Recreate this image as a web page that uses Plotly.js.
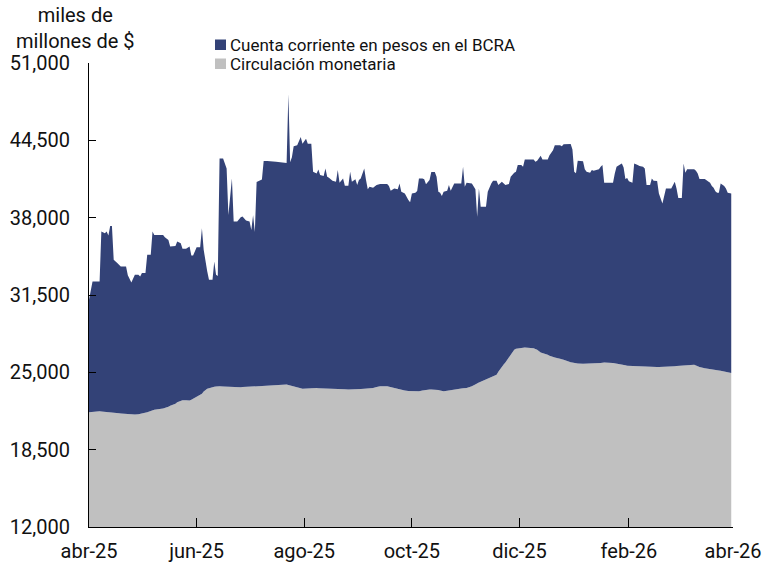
<!DOCTYPE html>
<html>
<head>
<meta charset="utf-8">
<script src="https://cdn.plot.ly/plotly-3.0.1.min.js"></script>
<style>html,body{margin:0;padding:0;background:#fff}#chart{width:767px;height:564px}</style>
</head>
<body>
<div id="chart"></div>
<script>
const dates = [
"2025-04-01","2025-04-03","2025-04-07","2025-04-08","2025-04-10","2025-04-11","2025-04-12","2025-04-13","2025-04-14","2025-04-15",
"2025-04-17","2025-04-18","2025-04-19","2025-04-22","2025-04-23","2025-04-25","2025-04-27","2025-04-29","2025-04-30","2025-05-01",
"2025-05-03","2025-05-04","2025-05-06","2025-05-07","2025-05-08","2025-05-13","2025-05-14","2025-05-16","2025-05-17","2025-05-20",
"2025-05-21","2025-05-23","2025-05-24","2025-05-26","2025-05-28","2025-05-29","2025-05-30","2025-06-01","2025-06-03","2025-06-04",
"2025-06-05","2025-06-07","2025-06-08","2025-06-10","2025-06-11","2025-06-12","2025-06-13","2025-06-14","2025-06-16","2025-06-18",
"2025-06-19","2025-06-21","2025-06-22","2025-06-24","2025-06-26","2025-06-27","2025-06-29","2025-07-01","2025-07-02","2025-07-03",
"2025-07-04","2025-07-05","2025-07-08","2025-07-09","2025-07-11","2025-07-16","2025-07-22","2025-07-23","2025-07-24","2025-07-25",
"2025-07-26","2025-07-28","2025-07-30","2025-07-31","2025-08-02","2025-08-03","2025-08-05","2025-08-06","2025-08-08","2025-08-09",
"2025-08-10","2025-08-12","2025-08-13","2025-08-14","2025-08-15","2025-08-17","2025-08-19","2025-08-20","2025-08-21","2025-08-23",
"2025-08-24","2025-08-26","2025-08-27","2025-08-28","2025-08-30","2025-08-31","2025-09-01","2025-09-02","2025-09-04","2025-09-05",
"2025-09-06","2025-09-07","2025-09-09","2025-09-11","2025-09-13","2025-09-17","2025-09-18","2025-09-19","2025-09-21","2025-09-23",
"2025-09-24","2025-09-25","2025-09-27","2025-09-29","2025-09-30","2025-10-01","2025-10-03","2025-10-04","2025-10-05","2025-10-07",
"2025-10-08","2025-10-09","2025-10-11","2025-10-12","2025-10-14","2025-10-15","2025-10-16","2025-10-17","2025-10-18","2025-10-19",
"2025-10-21","2025-10-22","2025-10-23","2025-10-25","2025-10-29","2025-10-30","2025-10-31","2025-11-01","2025-11-04","2025-11-06",
"2025-11-07","2025-11-08","2025-11-09","2025-11-12","2025-11-13","2025-11-15","2025-11-16","2025-11-18","2025-11-19","2025-11-21",
"2025-11-22","2025-11-23","2025-11-25","2025-11-26","2025-11-28","2025-11-29","2025-11-30","2025-12-02","2025-12-03","2025-12-04",
"2025-12-09","2025-12-10","2025-12-11","2025-12-13","2025-12-14","2025-12-17","2025-12-18","2025-12-20","2025-12-21","2025-12-24",
"2025-12-25","2025-12-26","2025-12-30","2025-12-31","2026-01-01","2026-01-02","2026-01-03","2026-01-06","2026-01-07","2026-01-08",
"2026-01-10","2026-01-11","2026-01-12","2026-01-13","2026-01-15","2026-01-16","2026-01-17","2026-01-18","2026-01-23","2026-01-24",
"2026-01-25","2026-01-27","2026-01-28","2026-01-29","2026-01-30","2026-01-31","2026-02-01","2026-02-03","2026-02-04","2026-02-06",
"2026-02-07","2026-02-09","2026-02-10","2026-02-11","2026-02-13","2026-02-14","2026-02-15","2026-02-17","2026-02-18","2026-02-20",
"2026-02-21","2026-02-22","2026-02-25","2026-02-27","2026-02-28","2026-03-01","2026-03-03","2026-03-04","2026-03-05","2026-03-06",
"2026-03-10","2026-03-11","2026-03-12","2026-03-13","2026-03-16","2026-03-17","2026-03-19","2026-03-20","2026-03-21","2026-03-22",
"2026-03-23","2026-03-24","2026-03-25","2026-03-27","2026-03-28","2026-03-29","2026-03-31"
];

const circulacion = [
21650,21690,21720,21710,21690,21670,21650,21640,21630,21610,
21580,21560,21540,21490,21470,21460,21460,21480,21510,21540,
21610,21650,21760,21820,21860,21960,22000,22100,22200,22350,
22490,22640,22650,22650,22630,22700,22770,22940,23120,23210,
23380,23610,23660,23780,23790,23800,23820,23830,23800,23780,
23770,23750,23740,23740,23750,23760,23780,23800,23810,23830,
23840,23860,23890,23900,23920,23960,23970,23940,23910,23880,
23840,23740,23670,23630,23660,23670,23690,23690,23690,23670,
23660,23630,23630,23620,23620,23610,23600,23590,23590,23570,
23570,23560,23560,23550,23560,23570,23580,23600,23620,23630,
23650,23660,23690,23760,23830,23830,23790,23760,23690,23600,
23550,23520,23470,23430,23430,23420,23420,23410,23410,23480,
23510,23550,23550,23550,23550,23550,23510,23480,23440,23410,
23460,23490,23520,23580,23650,23660,23680,23690,23830,24010,
24110,24150,24200,24390,24450,24580,24650,24800,25040,25500,
25660,25820,26260,26540,26900,26980,27000,27040,27060,27080,
27020,26970,26900,26670,26630,26470,26400,26290,26250,26150,
26120,26050,25850,25820,25790,25770,25750,25730,25730,25730,
25760,25770,25790,25790,25790,25790,25800,25820,25790,25770,
25750,25700,25670,25630,25590,25560,25550,25530,25520,25510,
25500,25490,25480,25470,25460,25450,25450,25450,25450,25450,
25450,25450,25490,25510,25530,25540,25580,25600,25620,25640,
25640,25580,25510,25450,25340,25310,25270,25240,25220,25200,
25180,25160,25140,25070,25030,25000,24950
];

const cuentaCorriente = [
9450,10950,10920,15120,15010,15160,14850,15660,15670,12850,
12620,12440,12360,12410,11680,11100,11740,11720,11550,11800,
11730,13230,13120,15010,14690,14590,14360,14030,13370,13270,
13510,13210,12740,12730,12940,12120,12050,12580,12400,13900,
11920,9890,9120,9000,10520,9400,9280,19140,19170,18350,
14460,17550,13930,13930,14280,14330,13980,13870,13160,14370,
12960,17140,17310,18870,18850,18740,18630,24440,18740,19190,
20160,20340,21110,20590,20980,20550,20530,18170,18030,18380,
17920,17870,18510,17820,17740,17500,17420,18410,17350,17730,
17110,17120,18300,17470,17660,17170,17580,17700,18520,17530,
16730,16940,16830,16980,16990,16990,16870,16510,16770,16780,
17330,16660,16570,16050,15870,16620,16680,16830,17890,17820,
17710,17250,17610,18280,18280,17890,16670,16620,16390,16770,
16810,17250,16750,17300,17230,18620,16920,17250,17050,16370,
13970,16310,14720,14530,15730,16300,16450,16300,15700,15520,
15220,14920,14560,14900,14870,14880,15420,15380,15220,15810,
15870,15730,15880,16530,16260,16420,16850,17380,17840,17940,
17880,18120,18350,17900,16070,15960,17030,17020,16330,16130,
16020,16230,16160,16210,16270,16490,16620,15120,15150,15950,
16530,16770,16890,16590,15670,15780,15510,15410,17040,16910,
16840,16790,16660,15270,15280,15850,15650,15630,14590,13750,
14310,15010,14970,15510,14930,14110,14070,16960,16160,16420,
16420,16370,16210,15810,15920,15850,15670,15420,15300,15030,
14920,14940,15740,15590,15430,15100,15090
];

const tickDates = ["2025-04-01","2025-06-01","2025-08-01","2025-10-01","2025-12-01","2026-02-01","2026-04-01"];
const tickLabels = ["abr-25","jun-25","ago-25","oct-25","dic-25","feb-26","abr-26"];
const yTicks = [12000,18500,25000,31500,38000,44500,51000];
const seriesNames = ["Cuenta corriente en pesos en el BCRA","Circulación monetaria"];
const colors = {cuenta: "#334277", circ: "#c0c0c0"};

const traces = [
  {x: dates, y: circulacion, type: "scatter", mode: "lines", stackgroup: "one",
   name: seriesNames[1], line: {width: 0, color: colors.circ}, fillcolor: colors.circ,
   showlegend: false, hovertemplate: "%{x}<br>%{y:,}<extra>" + seriesNames[1] + "</extra>"},
  {x: dates, y: cuentaCorriente, type: "scatter", mode: "lines", stackgroup: "one",
   name: seriesNames[0], line: {width: 0, color: colors.cuenta}, fillcolor: colors.cuenta,
   showlegend: false, hovertemplate: "%{x}<br>%{y:,}<extra>" + seriesNames[0] + "</extra>"}
];

// pixel helpers for paper coordinates of the legend/title decorations
const L = 89, T = 63, W = 644, H = 464;
const px = v => (v - L) / W;
const py = v => 1 + (T - v) / H;

const layout = {
  width: 767, height: 564,
  margin: {l: L, r: 767 - L - W, t: T, b: 564 - T - H, pad: 0},
  paper_bgcolor: "#ffffff", plot_bgcolor: "#ffffff",
  font: {family: "Roboto, 'Noto Sans', sans-serif", size: 20, color: "#111111"},
  showlegend: false,
  xaxis: {
    type: "date", range: ["2025-04-01", "2026-04-01"],
    tickmode: "array", tickvals: tickDates, ticktext: tickLabels,
    ticks: "inside", ticklen: 9, tickcolor: "#000", tickwidth: 1,
    showline: true, linecolor: "#000", linewidth: 1,
    showgrid: false, zeroline: false, ticklabelstandoff: 6,
    tickfont: {size: 20, color: "#111"}
  },
  yaxis: {
    range: [12000, 51000], tickmode: "array", tickvals: yTicks,
    tickformat: ",d",
    ticks: "inside", ticklen: 7, tickcolor: "#000", tickwidth: 1,
    showline: true, linecolor: "#000", linewidth: 1,
    showgrid: false, zeroline: false, ticklabelstandoff: 14,
    tickfont: {size: 20, color: "#111"}
  },
  shapes: [
    {type: "rect", xref: "paper", yref: "paper", x0: px(215), x1: px(226), y0: py(50), y1: py(39.5),
     fillcolor: colors.cuenta, line: {width: 0}},
    {type: "rect", xref: "paper", yref: "paper", x0: px(215), x1: px(226), y0: py(69), y1: py(58.5),
     fillcolor: colors.circ, line: {width: 0}}
  ],
  annotations: [
    {text: "miles de<br>millones de $", xref: "paper", yref: "paper", x: px(75), y: py(28),
     xanchor: "center", yanchor: "middle", showarrow: false, align: "center",
     font: {size: 20, color: "#111"}},
    {text: seriesNames[0], xref: "paper", yref: "paper", x: px(228), y: py(44.5),
     xanchor: "left", yanchor: "middle", showarrow: false, font: {size: 17, color: "#111"}},
    {text: seriesNames[1], xref: "paper", yref: "paper", x: px(228), y: py(64),
     xanchor: "left", yanchor: "middle", showarrow: false, font: {size: 17, color: "#111"}}
  ]
};

Plotly.newPlot("chart", traces, layout, {displayModeBar: false, staticPlot: true});
</script>
</body>
</html>
